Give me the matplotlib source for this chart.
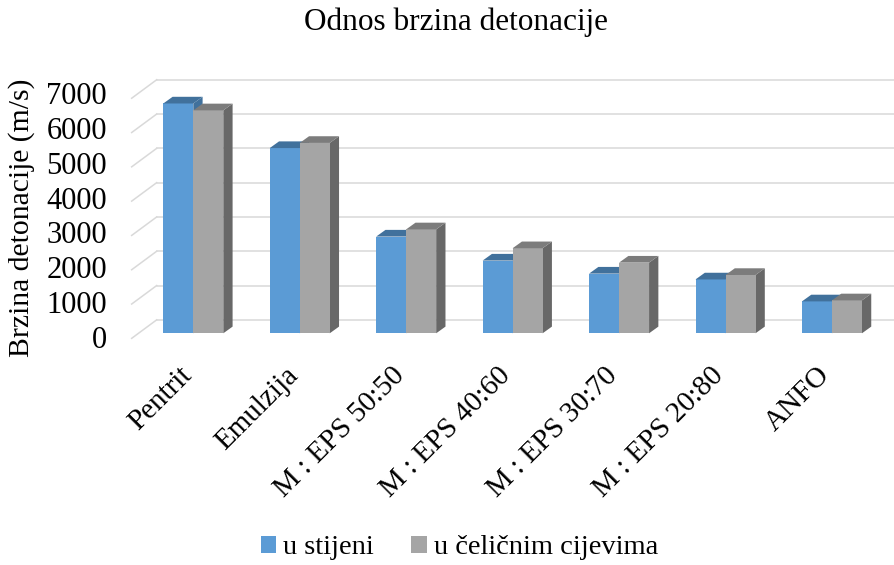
import matplotlib
matplotlib.use('Agg')
import matplotlib.pyplot as plt
from matplotlib.patches import Polygon, Patch
from matplotlib.transforms import offset_copy

plt.rcParams['font.family'] = ['Liberation Serif', 'DejaVu Serif']

categories = ['Pentrit', 'Emulzija', 'M : EPS 50:50', 'M : EPS 40:60',
              'M : EPS 30:70', 'M : EPS 20:80', 'ANFO']
u_stijeni = [6700, 5400, 2820, 2120, 1740, 1570, 930]
u_cijevima = [6500, 5550, 3030, 2480, 2060, 1700, 960]
yticks = [0, 1000, 2000, 3000, 4000, 5000, 6000, 7000]
series_names = ['u stijeni', 'u čeličnim cijevima']

blue, blue_dark = '#5b9bd5', '#41719c'
gray, gray_top, gray_side = '#a5a5a5', '#7c7c7c', '#686868'
grid_col = '#d9d9d9'

W, H = 894, 565
fig = plt.figure(figsize=(W / 100, H / 100), dpi=100)
ax = fig.add_axes([0.13287, 0.38581, 0.86678, 0.49781])
ax.set_xlim(-0.7, 6.58)
ax.set_ylim(-400, 7800)
for s in ax.spines.values():
    s.set_visible(False)

# oblique 3d look: depth offsets in data units
bw = 0.2818          # bar width
bdx, bdy = 0.0874, 195   # bar depth
wall_front_x, wall_back_x = -0.579, -0.344

# back wall gridlines + left floor diagonals
for v in yticks:
    ax.plot([wall_back_x, 6.58], [v + 392, v + 392], color=grid_col, lw=1.1, zorder=1)
    ax.plot([wall_front_x, wall_back_x], [v - 147, v + 392], color=grid_col, lw=1.1, zorder=1)


def box(x0, h, front, top, side, z):
    x1 = x0 + bw
    ax.add_patch(Polygon([(x1, 0), (x1 + bdx, bdy), (x1 + bdx, h + bdy), (x1, h)],
                         closed=True, fc=side, ec='none', zorder=z))
    ax.add_patch(Polygon([(x0, 0), (x1, 0), (x1, h), (x0, h)],
                         closed=True, fc=front, ec='none', zorder=z + 0.1))
    ax.add_patch(Polygon([(x0, h), (x1, h), (x1 + bdx, h + bdy), (x0 + bdx, h + bdy)],
                         closed=True, fc=top, ec='none', zorder=z + 0.2))


for i in range(len(categories)):
    box(i - bw, u_stijeni[i], blue, blue_dark, blue_dark, 2)
    box(i, u_cijevima[i], gray, gray_top, gray_side, 3)

# y tick labels (placed on the front plane)
ax.set_yticks([v * 1.0166 - 108 for v in yticks], [str(v) for v in yticks])
ax.tick_params(axis='y', length=0, pad=8.5, labelsize=22)

ax.set_xticks(range(len(categories)), categories)
ax.tick_params(axis='x', length=0, pad=11, labelsize=21)
shift = offset_copy(ax.get_xaxis_transform(), fig=fig, x=-15, y=0, units='dots')
for lab in ax.get_xticklabels():
    lab.set_rotation(45)
    lab.set_ha('right')
    lab.set_va('top')
    lab.set_rotation_mode('anchor')
    lab.set_transform(lab.get_transform() + matplotlib.transforms.ScaledTranslation(-15 / 100, 0, fig.dpi_scale_trans))

fig.text(455.5 / W, 1 - 22 / H, 'Odnos brzina detonacije', ha='center', va='center', fontsize=22.5)
fig.text(22 / W, 1 - 218 / H, 'Brzina detonacije (m/s)', rotation=90,
         ha='center', va='center', fontsize=21.3)

handles = [Patch(facecolor=blue, edgecolor='none'), Patch(facecolor=gray, edgecolor='none')]
fig.legend(handles, series_names, loc='center', bbox_to_anchor=(459.5 / W, 1 - 548 / H),
           ncol=2, frameon=False, fontsize=20.5, handlelength=0.55, handleheight=0.55,
           handletextpad=0.25, columnspacing=1.3)

fig.savefig('out.png', dpi=100)
